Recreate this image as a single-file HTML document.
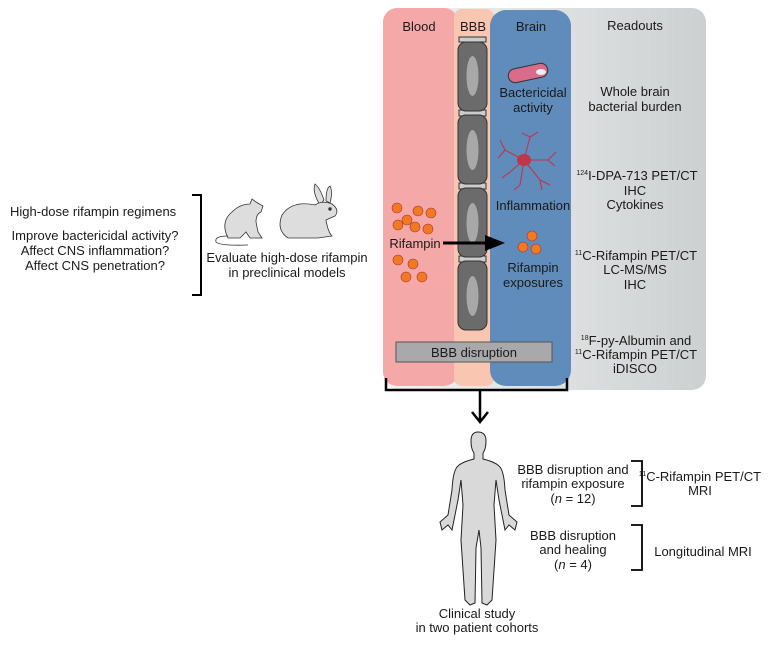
<!DOCTYPE html>
<html><head><meta charset="utf-8"><style>
body{margin:0;background:#fff;width:781px;height:648px;overflow:hidden;font-family:"Liberation Sans",Arial,sans-serif}
svg text{font-family:"Liberation Sans",Arial,sans-serif;font-size:13px;fill:#1a1a1a}
</style></head><body>
<svg width="781" height="648" viewBox="0 0 781 648" xmlns="http://www.w3.org/2000/svg">
<defs>
<linearGradient id="g" x1="0" x2="1"><stop offset="0" stop-color="#f2f3f3"/><stop offset="1" stop-color="#cdd0d1"/></linearGradient>
</defs>
<rect x="384" y="8" width="322" height="382" rx="14" fill="url(#g)"/>
<rect x="383" y="8" width="75" height="378" rx="14" fill="#f4a9a8"/>
<rect x="454" y="9" width="40" height="377" rx="8" fill="#f9c7b1"/>
<rect x="490" y="10" width="81" height="376" rx="16" fill="#5f8cba"/>
<text x="419" y="31" text-anchor="middle">Blood</text>
<text x="473" y="31" text-anchor="middle">BBB</text>
<text x="531" y="31" text-anchor="middle">Brain</text>
<text x="635" y="30" text-anchor="middle">Readouts</text>
<g fill="#6b6b6b" stroke="#333" stroke-width="1">
<rect x="459" y="37" width="27" height="5" fill="#ccc"/>
<rect x="459" y="110" width="27" height="6" fill="#ccc"/>
<rect x="459" y="183" width="27" height="6" fill="#ccc"/>
<rect x="459" y="256" width="27" height="6" fill="#ccc"/>
<rect x="458" y="42" width="29" height="69" rx="8"/>
<rect x="458" y="115" width="29" height="69" rx="8"/>
<rect x="458" y="188" width="29" height="69" rx="8"/>
<rect x="458" y="261" width="29" height="69" rx="8"/>
</g>
<g fill="#a8a8a8">
<ellipse cx="472.5" cy="76" rx="6" ry="20"/><ellipse cx="472.5" cy="150" rx="6" ry="20"/>
<ellipse cx="472.5" cy="223" rx="6" ry="20"/><ellipse cx="472.5" cy="296" rx="6" ry="20"/>
</g>
<rect x="396" y="342" width="156" height="20" fill="#a9a9ab" stroke="#555"/>
<text x="474" y="357" text-anchor="middle">BBB disruption</text>
<rect x="508" y="66" width="40" height="14" rx="7" transform="rotate(-12 528 73)" fill="#d86c8a" stroke="#333"/>
<ellipse cx="541" cy="72" rx="5" ry="3" fill="#eee"/>
<text x="533" y="97" text-anchor="middle">Bactericidal</text>
<text x="533" y="112" text-anchor="middle">activity</text>
<g stroke="#c0354a" stroke-width="1.1" fill="none">
<path d="M524 160 L505 150 M524 160 L510 172 M524 160 L520 185 M524 160 L540 180 M524 160 L548 160 M524 160 L530 137 M505 150 L500 140 M505 150 L498 158 M510 172 L502 178 M520 185 L514 190 M540 180 L550 185 M548 160 L556 152 M530 137 L538 132 M530 137 L522 133 M540 180 L542 190 M548 160 L555 166"/>
</g>
<ellipse cx="524" cy="160" rx="7" ry="6" fill="#c0354a"/>
<text x="533" y="210" text-anchor="middle">Inflammation</text>
<g fill="#f07922" stroke="#a33" stroke-width="0.6">
<circle cx="397" cy="208" r="5"/><circle cx="407" cy="220" r="5"/><circle cx="418" cy="211" r="5"/><circle cx="431" cy="213" r="5"/>
<circle cx="398" cy="225" r="5"/><circle cx="415" cy="227" r="5"/><circle cx="428" cy="229" r="5"/>
<circle cx="398" cy="260" r="5"/><circle cx="413" cy="264" r="5"/><circle cx="406" cy="277" r="5"/><circle cx="422" cy="277" r="5"/>
<circle cx="532" cy="236" r="5"/><circle cx="523" cy="247" r="5"/><circle cx="536" cy="249" r="5"/>
</g>
<text x="415" y="248" text-anchor="middle">Rifampin</text>
<line x1="443" y1="243" x2="488" y2="243" stroke="#000" stroke-width="3"/>
<polygon points="485,235 505,243 485,251" fill="#000"/>
<text x="533" y="272" text-anchor="middle">Rifampin</text>
<text x="533" y="287" text-anchor="middle">exposures</text>
<g text-anchor="middle">
<text x="635" y="96">Whole brain</text><text x="635" y="111">bacterial burden</text>
<text x="637" y="180"><tspan font-size="7" dy="-5">124</tspan><tspan dy="5">I-DPA-713 PET/CT</tspan></text>
<text x="635" y="195">IHC</text><text x="635" y="209">Cytokines</text>
<text x="636" y="260"><tspan font-size="7" dy="-5">11</tspan><tspan dy="5">C-Rifampin PET/CT</tspan></text>
<text x="635" y="274">LC-MS/MS</text><text x="635" y="289">IHC</text>
<text x="636" y="345"><tspan font-size="7" dy="-5">18</tspan><tspan dy="5">F-py-Albumin and</tspan></text>
<text x="636" y="359"><tspan font-size="7" dy="-5">11</tspan><tspan dy="5">C-Rifampin PET/CT</tspan></text>
<text x="635" y="373">iDISCO</text>
</g>
<text x="10" y="216">High-dose rifampin regimens</text>
<g text-anchor="middle"><text x="95" y="240">Improve bactericidal activity?</text><text x="95" y="255">Affect CNS inflammation?</text><text x="95" y="270">Affect CNS penetration?</text>
<text x="287" y="262">Evaluate high-dose rifampin</text><text x="287" y="277">in preclinical models</text></g>
<path d="M192 195 H201 V295 H192" fill="none" stroke="#000" stroke-width="2"/>
<!-- rat -->
<g fill="#ddd" stroke="#333" stroke-width="0.8">
<path d="M228 238 Q220 222 232 212 Q240 204 250 204 L252 199 L256 202 L263 206 L261 212 Q256 214 256 222 L258 232 L262 238 L250 238 L246 232 L240 238 Z"/>
<path d="M228 236 Q214 236 216 242 Q220 246 248 245" fill="none"/>
</g>
<!-- rabbit -->
<g fill="#ddd" stroke="#333" stroke-width="0.8">
<path d="M320 205 Q312 192 315 184 Q320 188 324 200 Z M326 201 Q326 188 330 186 Q333 192 330 203 Z"/>
<path d="M288 238 Q276 230 282 215 Q292 200 315 205 Q322 200 332 204 Q340 210 335 216 L326 220 Q328 232 332 236 L318 238 Z"/>
<circle cx="330" cy="209" r="1.3" fill="#333"/>
</g>
<path d="M386 378 V390 H567 V378" fill="none" stroke="#000" stroke-width="2.5"/>
<line x1="480" y1="390" x2="480" y2="420" stroke="#000" stroke-width="2.5"/>
<path d="M472 412 L480 422 L488 412" fill="none" stroke="#000" stroke-width="2.5"/>
<path d="M478 432 Q471 432 471 441 Q471 449 474 453 L474 459 Q462 462 458 466 Q453 470 452 490 L448 515 L440 522 L442 530 L448 525 L452 530 L458 500 L461 480 L463 505 L461 540 L465 600 L470 605 L475 603 L476 548 L479 530 L481 548 L482 603 L487 605 L492 600 L496 540 L494 505 L496 480 L499 500 L505 530 L509 525 L515 530 L517 522 L509 515 L505 490 Q504 470 499 466 Q495 462 483 459 L483 453 Q486 449 486 441 Q486 432 478 432 Z" fill="#d9d9d9" stroke="#222" stroke-width="1"/>
<g text-anchor="middle">
<text x="477" y="618">Clinical study</text><text x="477" y="632">in two patient cohorts</text>
<text x="573" y="474">BBB disruption and</text><text x="573" y="488">rifampin exposure</text><text x="573" y="503">(<tspan font-style="italic">n</tspan> = 12)</text>
<text x="573" y="540">BBB disruption</text><text x="573" y="554">and healing</text><text x="573" y="569">(<tspan font-style="italic">n</tspan> = 4)</text>
<text x="700" y="481"><tspan font-size="7" dy="-5">11</tspan><tspan dy="5">C-Rifampin PET/CT</tspan></text><text x="700" y="495">MRI</text>
<text x="703" y="556">Longitudinal MRI</text>
</g>
<path d="M631 461 H642 V506 H631 M631 525 H642 V570 H631" fill="none" stroke="#000" stroke-width="1.8"/>
</svg>
</body></html>
